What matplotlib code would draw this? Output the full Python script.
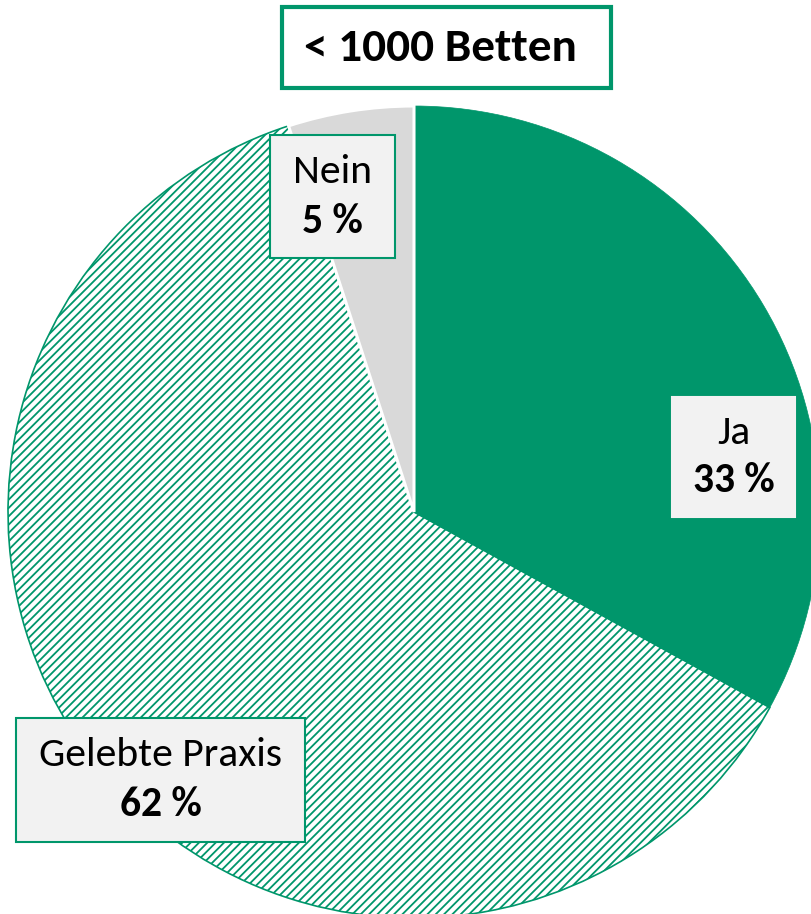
import matplotlib
matplotlib.use("Agg")
import matplotlib.pyplot as plt
from matplotlib.patches import Rectangle

plt.rcParams['font.family'] = ['Carlito', 'Lato', 'DejaVu Sans']
plt.rcParams['hatch.linewidth'] = 1.3

title = "< 1000 Betten"
categories = ["Ja", "Gelebte Praxis", "Nein"]
values = [33, 62, 5]
pct_labels = ["33 %", "62 %", "5 %"]

GREEN = "#00966B"
GREY = "#D9D9D9"
BOXFILL = "#F2F2F2"

W, H = 811, 914
fig = plt.figure(figsize=(W / 100, H / 100), dpi=100)
ax = fig.add_axes([0, 0, 1, 1])

wedges, _ = ax.pie(values, colors=[GREEN, "white", GREY], startangle=90,
                   counterclock=False, center=(414, 402), radius=406,
                   frame=False)
wedges[0].set_edgecolor(GREEN)
wedges[0].set_linewidth(0.5)
wedges[0].set_zorder(2)
wedges[1].set_edgecolor(GREEN)
wedges[1].set_hatch("////")
wedges[1].set_linewidth(1.2)
wedges[1].set_zorder(1)
wedges[2].set_edgecolor("white")
wedges[2].set_linewidth(2.2)
wedges[2].set_zorder(3)

ax.set_xlim(0, W)
ax.set_ylim(0, H)
ax.set_aspect('equal')
ax.axis('off')

# title box
ax.add_patch(Rectangle((282, 826), 329, 81, facecolor="white", edgecolor=GREEN,
                       linewidth=3, zorder=5))
ax.text(440, 866, title, ha="center", va="center", fontsize=34,
        fontweight="bold", zorder=6)

# label boxes: (x, y_bottom, w, h) in pixel space
boxes = {
    "Ja": (672, 397, 123, 120),
    "Gelebte Praxis": (16, 72, 289, 124),
    "Nein": (270, 656, 125, 123),
}
for cat, pct in zip(categories, pct_labels):
    x, y, w, h = boxes[cat]
    ax.add_patch(Rectangle((x, y), w, h, facecolor=BOXFILL,
                           edgecolor=GREEN if cat != "Ja" else BOXFILL,
                           linewidth=1.5, zorder=5))
    cx = x + w / 2
    ax.text(cx, y + h * 0.70, cat, ha="center", va="center", fontsize=30,
            zorder=6)
    ax.text(cx, y + h * 0.30, pct, ha="center", va="center", fontsize=30,
            fontweight="bold", zorder=6)

fig.savefig("out.png", dpi=100)
